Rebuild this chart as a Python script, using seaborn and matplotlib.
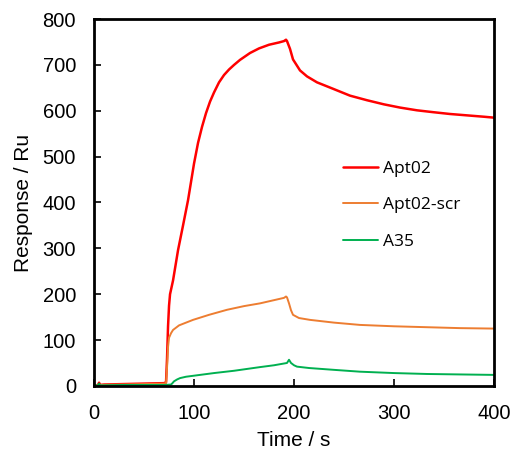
import numpy as np
import pandas as pd
import matplotlib
matplotlib.use('Agg')
import matplotlib.pyplot as plt
import seaborn as sns

# Sensorgram values (time in s, response in Ru)
apt02_t = [0, 4, 5, 6, 10, 30, 50, 70, 72, 73, 74, 75, 76, 79, 84, 89, 94, 100, 104,
           108, 112, 116, 120, 125, 130, 135, 140, 146, 156, 165, 175, 185, 190, 192,
           193, 196, 199, 206, 213, 223, 239, 256, 273, 290, 306, 323, 339, 356, 373,
           390, 400]
apt02_v = [0, 2, 7, 2, 3, 4, 5, 6, 8, 60, 130, 175, 200, 230, 296, 350, 405, 485, 530,
           565, 595, 620, 640, 662, 678, 690, 700, 711, 726, 736, 744, 749, 752, 755,
           752, 735, 712, 688, 675, 662, 648, 633, 623, 614, 607, 601, 597, 593, 590,
           587, 585]

scr_t = [0, 30, 70, 72, 73, 74, 75, 77, 79, 85, 92, 99, 115, 133, 150, 166, 180, 190,
         192, 193, 195, 197, 199, 205, 216, 240, 266, 300, 333, 366, 400]
scr_v = [2, 3, 5, 6, 40, 85, 105, 115, 122, 132, 138, 144, 155, 166, 174, 180, 187, 192,
         195, 193, 180, 165, 155, 148, 144, 138, 133, 130, 128, 126, 125]

a35_t = [0, 4, 5, 6, 30, 70, 77, 78, 80, 83, 86, 92, 99, 120, 140, 166, 180, 193, 195,
         197, 200, 203, 215, 240, 266, 300, 333, 366, 400]
a35_v = [1, 1, 5, 1, 2, 2, 3, 5, 10, 14, 17, 20, 22, 28, 33, 41, 45, 50, 57,
         50, 45, 42, 39, 35, 31, 28, 26, 25, 24]

labels = ['Apt02', 'Apt02-scr', 'A35']
colors = ['#FF0000', '#ED7D31', '#00B050']
widths = [1.8, 1.4, 1.4]

df = pd.concat([
    pd.DataFrame({'Time': apt02_t, 'Response': apt02_v, 'Sample': labels[0]}),
    pd.DataFrame({'Time': scr_t, 'Response': scr_v, 'Sample': labels[1]}),
    pd.DataFrame({'Time': a35_t, 'Response': a35_v, 'Sample': labels[2]}),
])

sns.set_style('ticks')
plt.rcParams['font.family'] = ['Liberation Sans', 'DejaVu Sans']
plt.rcParams['text.color'] = 'black'
plt.rcParams['axes.labelcolor'] = 'black'

fig = plt.figure(figsize=(5.14, 4.54), dpi=100)
ax = fig.add_axes([0.183, 0.150, 0.778, 0.808])

for name, c, lw in zip(labels, colors, widths):
    sns.lineplot(data=df[df['Sample'] == name], x='Time', y='Response', color=c,
                 linewidth=lw, label=name, estimator=None, sort=False, ax=ax)

ax.set_xlim(0, 400)
ax.set_ylim(0, 800)
ax.set_xticks([0, 100, 200, 300, 400])
ax.set_yticks(range(0, 801, 100))
ax.tick_params(direction='in', length=5, width=1.2, labelsize=14.5, colors='black')
ax.tick_params(axis='x', pad=13)
ax.tick_params(axis='y', pad=13)
for s in ax.spines.values():
    s.set_linewidth(2)
    s.set_color('black')
ax.set_xlabel('Time / s', fontsize=15, labelpad=6)
ax.set_ylabel('Response / Ru', fontsize=15, labelpad=7)

leg = ax.legend(loc='upper left', bbox_to_anchor=(0.583, 0.657), frameon=False,
                prop={'family': 'Open Sans', 'size': 12.5}, handlelength=2.0,
                handletextpad=0.3, labelspacing=1.18)
for t in leg.get_texts():
    t.set_color('black')

fig.savefig('out.png', dpi=100)
